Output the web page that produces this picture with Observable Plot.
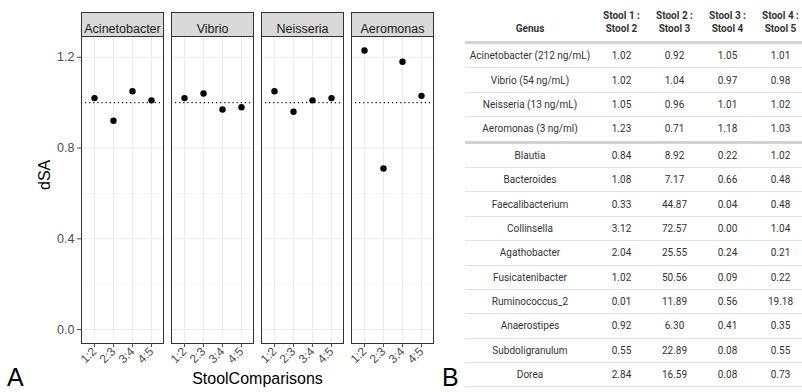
<!DOCTYPE html>
<html><head><meta charset="utf-8">
<script src="https://cdn.jsdelivr.net/npm/d3@7"></script>
<script src="https://cdn.jsdelivr.net/npm/@observablehq/plot@0.6"></script>
<style>
html,body{margin:0;padding:0;background:#fff;}
body{width:802px;height:392px;overflow:hidden;position:relative;font-family:"Liberation Sans",Arial,sans-serif;}
#chart{position:absolute;left:0;top:0;}
#tbl{position:absolute;left:465px;top:0;font-family:Roboto,sans-serif;font-size:10px;color:#333;}
#tbl table{border-collapse:collapse;table-layout:fixed;width:342px;}
#tbl th{font-weight:bold;vertical-align:bottom;text-align:center;line-height:13px;padding:0 0 6px 0;height:35px;border-bottom:3px solid #d3d3d3;}
#tbl td{text-align:center;padding:0;height:23.4px;border-bottom:1px solid #e3e3e3;}
#tbl tr.sep td{border-bottom:3px solid #d3d3d3;}
.panel-label{position:absolute;font-family:"Liberation Sans",Arial,sans-serif;font-size:25px;color:#000;line-height:20px;}
</style></head><body>
<div id="chart"></div>
<div id="tbl"></div>
<div class="panel-label" style="left:7px;top:367px;">A</div>
<div class="panel-label" style="left:442px;top:367px;">B</div>
<script>
// ---- Panel A data ----
const genera = ["Acinetobacter", "Vibrio", "Neisseria", "Aeromonas"];
const comparisons = ["1:2", "2:3", "3:4", "4:5"];
const dsaAcinetobacter = [1.02, 0.92, 1.05, 1.01];
const dsaVibrio = [1.02, 1.04, 0.97, 0.98];
const dsaNeisseria = [1.05, 0.96, 1.01, 1.02];
const dsaAeromonas = [1.23, 0.71, 1.18, 1.03];
const yTicks = [0, 0.4, 0.8, 1.2];
const yMinorTicks = [0.2, 0.6, 1.0];
const referenceLine = [1];

// ---- Panel B table data ----
const tableHeaders = ["Genus", "Stool 1 :|Stool 2", "Stool 2 :|Stool 3", "Stool 3 :|Stool 4", "Stool 4 :|Stool 5"];
const tableGenus = ["Acinetobacter (212 ng/mL)", "Vibrio (54 ng/mL)", "Neisseria (13 ng/mL)", "Aeromonas (3 ng/ml)",
  "Blautia", "Bacteroides", "Faecalibacterium", "Collinsella", "Agathobacter", "Fusicatenibacter",
  "Ruminococcus_2", "Anaerostipes", "Subdoligranulum", "Dorea"];
const stool12 = [1.02, 1.02, 1.05, 1.23, 0.84, 1.08, 0.33, 3.12, 2.04, 1.02, 0.01, 0.92, 0.55, 2.84];
const stool23 = [0.92, 1.04, 0.96, 0.71, 8.92, 7.17, 44.87, 72.57, 25.55, 50.56, 11.89, 6.30, 22.89, 16.59];
const stool34 = [1.05, 0.97, 1.01, 1.18, 0.22, 0.66, 0.04, 0.00, 0.24, 0.09, 0.56, 0.41, 0.08, 0.08];
const stool45 = [1.01, 0.98, 1.02, 1.03, 1.02, 0.48, 0.48, 1.04, 0.21, 0.22, 19.18, 0.35, 0.55, 0.73];
const spikeInCount = 4;

const dsaByGenus = [dsaAcinetobacter, dsaVibrio, dsaNeisseria, dsaAeromonas];
const data = genera.flatMap((g, i) => comparisons.map((c, j) => ({genus: g, comp: c, dSA: dsaByGenus[i][j]})));

// y domain with ggplot-like 5% expansion of [0, max]
const yMax = d3.max(data, d => d.dSA);
const yPad = yMax * 0.05;
const yDomain = [0 - yPad, yMax + yPad];

const W = 440, H = 392, mT = 36, mB = 49, mL = 79, mR = 6;
const stripH = 24;
const plotH = H - mT - mB;

const plot = Plot.plot({
  width: W, height: H,
  marginLeft: mL, marginRight: mR, marginTop: mT, marginBottom: mB,
  style: {fontFamily: "'Liberation Sans', Arial, sans-serif", background: "white", overflow: "visible"},
  fx: {domain: genera, paddingInner: 0.091, paddingOuter: 0, axis: null, label: null},
  x: {domain: comparisons, type: "point", padding: 0.6, label: null},
  y: {domain: yDomain, label: null},
  marks: [
    Plot.gridY(yMinorTicks, {stroke: "#ebebeb", strokeOpacity: 1, strokeWidth: 0.55}),
    Plot.gridY(yTicks, {stroke: "#ebebeb", strokeOpacity: 1, strokeWidth: 1.1}),
    Plot.gridX(comparisons, {stroke: "#ebebeb", strokeOpacity: 1, strokeWidth: 1.1}),
    Plot.ruleY(referenceLine, {stroke: "black", strokeWidth: 1.1, strokeDasharray: "1.1,3"}),
    Plot.dot(data, {fx: "genus", x: "comp", y: "dSA", fill: "black", r: 3.2}),
    Plot.frame({stroke: "#333333", strokeWidth: 1}),
    Plot.frame({fill: "#d9d9d9", stroke: "#333333", strokeWidth: 1, insetTop: -stripH, insetBottom: plotH}),
    Plot.text(genera, {fx: d => d, text: d => d, frameAnchor: "top", dy: -stripH / 2, fontSize: 12.5, fill: "#1a1a1a"}),
    Plot.axisY(yTicks, {tickFormat: d => d.toFixed(1), tickSize: 4, tickPadding: 3, fontSize: 12.5, color: "#4d4d4d", label: null}),
    Plot.axisX({tickRotate: -45, tickSize: 4, tickPadding: 2, fontSize: 12, color: "#4d4d4d", label: null}),
    Plot.text(["dSA"], {facet: "super", frameAnchor: "left", dx: -37, rotate: -90, fontSize: 16, fill: "black"}),
    Plot.text(["StoolComparisons"], {facet: "super", frameAnchor: "bottom", dy: 40, fontSize: 16, fill: "black"})
  ]
});
document.getElementById("chart").appendChild(plot);

// ---- table ----
const table = document.createElement("table");
const colgroup = document.createElement("colgroup");
[130, 53, 53, 53, 53].forEach(w => { const c = document.createElement("col"); c.style.width = w + "px"; colgroup.appendChild(c); });
table.appendChild(colgroup);
const thead = document.createElement("thead");
const hr = document.createElement("tr");
tableHeaders.forEach(h => {
  const th = document.createElement("th");
  h.split("|").forEach((line, k) => { if (k) th.appendChild(document.createElement("br")); th.appendChild(document.createTextNode(line)); });
  hr.appendChild(th);
});
thead.appendChild(hr);
table.appendChild(thead);
const tbody = document.createElement("tbody");
tableGenus.forEach((g, i) => {
  const tr = document.createElement("tr");
  if (i === spikeInCount - 1) tr.className = "sep";
  [g, stool12[i].toFixed(2), stool23[i].toFixed(2), stool34[i].toFixed(2), stool45[i].toFixed(2)].forEach(v => {
    const td = document.createElement("td"); td.textContent = v; tr.appendChild(td);
  });
  tbody.appendChild(tr);
});
table.appendChild(tbody);
document.getElementById("tbl").appendChild(table);
</script>
</body></html>
